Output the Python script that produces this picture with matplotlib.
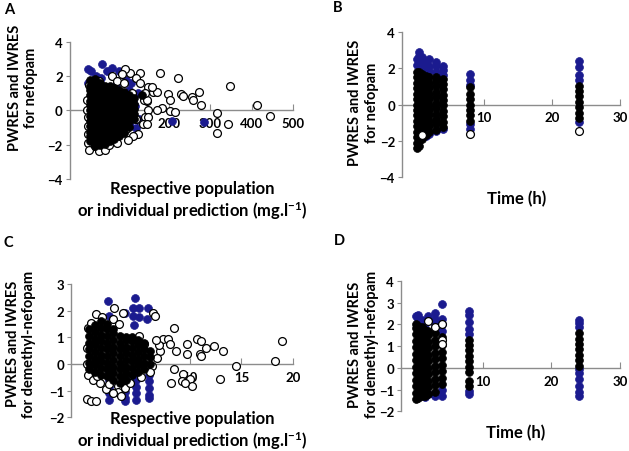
import matplotlib
matplotlib.use("Agg")
import matplotlib.pyplot as plt

plt.rcParams['font.family'] = ['Lato', 'DejaVu Sans']
plt.rcParams['font.weight'] = 'bold'
plt.rcParams['mathtext.fontset'] = 'custom'
plt.rcParams['mathtext.bf'] = 'Lato:bold'
plt.rcParams['mathtext.default'] = 'bf'

BLUE = '#1b1b8f'
GREY = '#8c8c8c'

## Panel A - residuals vs prediction, nefopam
a_blue_x = [5, 12, 37, 49, 61, 80, 36, 24, 4, 72, 97, 109, 104, 125, 113, 117, 109, 128,
            113, 105, 120, 100, 65, 80, 207, 284]
a_blue_y = [2.4, 2.3, 2.7, 2.3, 2.5, 2.3, 1.9, 2.0, 1.6, 1.5, 1.8, 1.6, 1.2, 1.0, 0.6, 0.25,
            -0.15, -0.5, -0.4, -0.9, -1.0, -0.9, -1.1, -1.3, -0.6, -0.7]
a_core_x = [8, 20, 32, 44, 56, 68, 80, 92, 104, 116, 135]
a_core_y = [
    [-1.8, -1.5, -1.25, -0.9, -0.6, -0.35, 0.0, 0.3, 0.55, 0.9, 1.2, 1.45, 1.75],
    [-2.05, -1.75, -1.4, -1.1, -0.8, -0.5, -0.2, 0.1, 0.45, 0.7, 1.0, 1.3, 1.6, 1.85],
    [-2.0, -1.7, -1.45, -1.1, -0.8, -0.5, -0.25, 0.1, 0.4, 0.7, 1.0, 1.3, 1.6],
    [-1.95, -1.6, -1.3, -1.0, -0.7, -0.4, -0.1, 0.2, 0.5, 0.8, 1.1, 1.4],
    [-1.8, -1.5, -1.2, -0.95, -0.6, -0.3, 0.0, 0.3, 0.6, 0.9, 1.15, 1.4],
    [-1.65, -1.4, -1.1, -0.8, -0.5, -0.2, 0.1, 0.4, 0.7, 1.0, 1.3],
    [-1.5, -1.2, -0.9, -0.6, -0.3, 0.0, 0.3, 0.6, 0.9, 1.2],
    [-1.3, -1.0, -0.7, -0.4, -0.1, 0.2, 0.5, 0.8, 1.1],
    [-0.95, -0.6, -0.3, 0.0, 0.3, 0.6, 0.9],
    [-0.5, -0.2, 0.1, 0.4, 0.7],
    [0.9],
]
a_open_x = [105, 130, 178, 222, 228, 233, 255, 259, 273, 277, 315, 315, 342, 347, 412, 444,
            198, 202, 214, 182, 170, 150, 146, 160, 150, 140, 142, 138, 125, 120, 110, 130,
            94, 121, 202, 146, 150, 146, 170, 158, 142,
            3, 6, 22, 30, 46, 54, 38, 74, 78, 62, 112, 96, 3, 3,
            2, 2, 3, 6, 62, 74, 90, 30, 85, 100]
a_open_y = [2.2, 2.2, 2.2, 1.9, 0.95, 0.85, 0.8, 0.6, 1.1, 0.3, -0.15, -1.3, -0.8, 1.45, 0.3, -0.3,
            0.95, -0.05, -0.1, 0.15, 0.05, 0.05, 0.55, 1.1, 1.35, 0.6, -0.4, -0.8, -1.4, 1.9, 1.0, 1.6,
            2.4, -0.5, 0.6, 0.6, -0.4, -0.8, 1.1, 1.35, 1.0,
            -1.9, -2.3, -2.1, -2.35, -2.3, -2.0, -1.8, -1.9, -1.4, -1.3, -1.5, -1.1, -1.4, -0.9,
            0.6, 0.0, -0.4, 1.5, 2.0, 1.7, 1.6, 1.7, 2.1, -1.7]

## Panel B - residuals vs time, nefopam
b_core_t = [0.25, 0.5, 1, 1.5, 2, 3, 4, 8, 24]
b_core_y = [
    [-2.4, -2.1, -1.8, -1.5, -1.2, -0.9, -0.6, -0.3, 0.0, 0.3, 0.6, 0.9, 1.2, 1.5, 1.8],
    [-2.3, -2.0, -1.7, -1.4, -1.1, -0.8, -0.5, -0.2, 0.1, 0.4, 0.7, 1.0, 1.3, 1.6, 1.8],
    [-1.9, -1.6, -1.3, -1.0, -0.7, -0.4, -0.1, 0.2, 0.5, 0.8, 1.1, 1.4, 1.7],
    [-1.7, -1.4, -1.1, -0.8, -0.5, -0.2, 0.1, 0.4, 0.7, 1.0, 1.3, 1.6],
    [-1.5, -1.2, -0.9, -0.6, -0.3, 0.0, 0.3, 0.6, 0.9, 1.2, 1.5],
    [-1.4, -1.1, -0.8, -0.5, -0.2, 0.1, 0.4, 0.7, 1.0, 1.3, 1.5],
    [-1.25, -0.95, -0.65, -0.35, -0.05, 0.25, 0.55, 0.85, 1.15, 1.4],
    [-0.9, -0.6, -0.3, 0.0, 0.3, 0.6, 0.95],
    [-0.75, -0.45, -0.15, 0.15, 0.45, 0.75, 1.0],
]
b_blue_t = [0.25, 0.25, 0.5, 0.5, 0.5, 1, 1, 1.5, 1.5, 2, 2, 2, 3, 3, 3, 4, 4, 4,
            1.5, 2, 3, 4, 3, 8, 8, 8, 8, 8, 24, 24, 24, 24, 24]
b_blue_y = [2.5, 2.2, 2.9, 2.7, 2.35, 2.6, 2.2, 2.3, 1.95, 2.5, 2.15, 1.85, 2.35, 2.1, 1.8,
            2.15, 1.9, 1.65, -1.75, -1.6, -1.45, -1.35, -0.9, 1.7, 1.35, 1.1, -1.1, -1.35,
            2.4, 2.05, 1.65, 1.35, -0.95]
b_open_t = [1, 8, 24]
b_open_y = [-1.7, -1.6, -1.45]

## Panel C - residuals vs prediction, demethyl-nefopam
c_core_x = [0.2, 0.8, 1.4, 2.0, 2.6, 3.2, 3.8, 4.4, 5.0, 5.6, 6.1]
c_core_y = [
    [-0.2, 0.05, 0.3, 0.55, 0.8, 1.05, 1.3],
    [-0.3, -0.05, 0.2, 0.45, 0.7, 0.95, 1.2, 1.45],
    [-0.4, -0.15, 0.1, 0.35, 0.6, 0.85, 1.1, 1.35, 1.6],
    [-0.45, -0.2, 0.05, 0.3, 0.55, 0.8, 1.05, 1.3, 1.5],
    [-0.6, -0.35, -0.1, 0.15, 0.4, 0.65, 0.9, 1.15, 1.3],
    [-0.7, -0.45, -0.2, 0.05, 0.3, 0.55, 0.8, 1.05],
    [-0.6, -0.35, -0.1, 0.15, 0.4, 0.65, 0.9, 1.0],
    [-0.4, -0.15, 0.1, 0.35, 0.6, 0.85, 1.0],
    [-0.3, -0.05, 0.2, 0.45, 0.7, 0.9],
    [-0.2, 0.05, 0.3, 0.55, 0.8],
    [0.0, 0.25, 0.5],
]
c_blue_x = [2.1, 2.2, 3.7, 4.7, 4.5, 5.1, 5.95, 4.5, 5.1, 5.9, 4.6,
            2.2, 2.2, 2.2, 2.2, 2.2, 3.7, 3.7, 3.7, 3.7, 3.7,
            4.8, 4.8, 4.8, 4.8, 4.8, 6.0, 6.0, 6.0, 6.0, 6.0]
c_blue_y = [2.35, 1.8, 1.9, 2.5, 2.1, 2.1, 2.1, 1.8, 1.75, 1.7, 1.45,
            -0.35, -0.6, -0.85, -1.1, -1.35, -0.55, -0.8, -1.05, -1.3, -1.4,
            -0.35, -0.6, -0.85, -1.1, -1.35, -0.4, -0.65, -0.9, -1.15, -1.3]
c_open_x = [6.4, 8.5, 7.4, 7.9, 8.1, 8.7, 9.7, 9.7, 10.65, 11.1, 10.95, 11.1, 11.6, 12.3,
            13.2, 12.9, 14.5, 18.2, 18.9, 8.5, 9.35, 9.2, 8.2, 10.0, 10.2, 9.5, 6.6, 7.1,
            6.8, 6.3, 6.1, 7.0, 6.7,
            0.9, 0.1, 0.0, 0.05, 0.1, 0.6, 1.3, 1.9, 3.0, 3.0, 3.7, 2.6, 3.3, 0.05, 0.45,
            0.95, 2.7, 3.5, 2.55, 3.1, 5.1, 5.6, 1.5, 0.4, 4.2, 5.3, 2.2, 1.0]
c_open_y = [1.93, 1.37, 0.93, 0.93, 0.74, 0.49, 0.74, 0.36, 0.93, 0.87, 0.36, 0.3, 0.61, 0.68,
            0.49, -0.57, -0.07, 0.12, 0.87, -0.2, -0.38, -0.63, -0.7, -0.57, -0.82, -0.7, 1.8, 0.49,
            0.24, -0.07, -0.32, 0.7, 0.9,
            1.87, 1.37, 0.61, 0.0, -0.4, -0.6, -0.7, -0.95, -0.82, -1.07, -0.9, -1.1, -1.2, -1.32, -1.39,
            -1.39, 2.12, 1.9, 1.68, 1.5, 1.06, 0.74, 1.75, 1.55, -0.7, -0.5, -0.75, -0.45]

## Panel D - residuals vs time, demethyl-nefopam
d_core_t = [0.25, 0.5, 1, 1.5, 2, 3, 4, 8, 24]
d_core_y = [
    [-1.45, -1.15, -0.85, -0.55, -0.25, 0.05, 0.35, 0.65, 0.95, 1.25, 1.55, 1.85, 2.0],
    [-1.4, -1.1, -0.8, -0.5, -0.2, 0.1, 0.4, 0.7, 1.0, 1.3, 1.6, 1.95],
    [-1.3, -1.0, -0.7, -0.4, -0.1, 0.2, 0.5, 0.8, 1.1, 1.4, 1.7, 1.9],
    [-1.3, -1.0, -0.7, -0.4, -0.1, 0.2, 0.5, 0.8, 1.1, 1.4, 1.75],
    [-1.2, -0.9, -0.6, -0.3, 0.0, 0.3, 0.6, 0.9, 1.2, 1.5, 1.7],
    [-1.1, -0.8, -0.5, -0.2, 0.1, 0.4, 0.7, 1.0, 1.3, 1.6],
    [-0.75, -0.45, -0.15, 0.15, 0.45, 0.75, 1.05, 1.4],
    [-0.85, -0.6, -0.2, 0.05, 0.3, 0.55, 0.8, 1.05, 1.3],
    [0.1, 0.35, 0.6, 0.85, 1.1, 1.35, 1.6],
]
d_blue_t = [0.25, 0.5, 0.5, 1, 1.5, 2, 3, 3, 3, 4, 4, 4, 4, 2, 1.5, 3, 4, 4,
            8, 8, 8, 8, 8, 8, 8, 24, 24, 24, 24, 24, 24, 24, 24, 24]
d_blue_y = [2.4, 2.45, 2.25, 2.2, 2.0, 2.4, 2.55, 2.25, 2.0, 2.95, 2.25, 2.0, 1.7, -1.2, -1.35,
            -1.3, -1.3, -1.0, 2.6, 2.45, 2.1, 1.8, 1.55, -1.05, -1.2,
            2.2, 2.05, 1.9, -0.05, -0.25, -0.5, -0.85, -1.1, -1.28]
d_open_t = [2, 3, 4, 4, 4]
d_open_y = [2.15, 1.9, 2.0, 1.3, 1.1]


def expand(cols, ys):
    xs, yy = [], []
    for c, col in zip(cols, ys):
        xs += [c] * len(col)
        yy += col
    return xs, yy


def draw(ax, blue, core, opn, open_z):
    ax.scatter(blue[0], blue[1], s=32, c=BLUE, edgecolors=BLUE, linewidths=0.5, zorder=3)
    cx, cy = expand(core[0], core[1])
    ax.scatter(cx, cy, s=32, c='black', edgecolors='black', linewidths=0.5, zorder=4)
    ax.scatter(opn[0], opn[1], s=32, facecolors='white', edgecolors='black', linewidths=0.9,
               zorder=open_z)


def style(ax, xlim, ylim, xticks, yticks):
    ax.set_xlim(xlim)
    ax.set_ylim(ylim)
    ax.patch.set_alpha(0)
    ax.spines['top'].set_visible(False)
    ax.spines['right'].set_visible(False)
    ax.spines['bottom'].set_position(('data', 0))
    for s in ('left', 'bottom'):
        ax.spines[s].set_color(GREY)
        ax.spines[s].set_linewidth(1)
    ax.set_xticks(xticks)
    ax.set_yticks(yticks)
    ax.tick_params(axis='x', direction='in', length=4, color=GREY, pad=5, labelsize=9.5)
    ax.tick_params(axis='y', direction='out', length=3, color=GREY, pad=2, labelsize=9.5)


fig = plt.figure(figsize=(6.29, 4.52), dpi=100)
axA = fig.add_axes([0.111, 0.602, 0.355, 0.303])
axB = fig.add_axes([0.639, 0.606, 0.347, 0.321])
axC = fig.add_axes([0.113, 0.075, 0.353, 0.294])
axD = fig.add_axes([0.6375, 0.088, 0.348, 0.288])

draw(axA, (a_blue_x, a_blue_y), (a_core_x, a_core_y), (a_open_x, a_open_y), 3.5)
style(axA, (-40, 500), (-4, 4), [100, 200, 300, 400, 500], [-4, -2, 0, 2, 4])

draw(axB, (b_blue_t, b_blue_y), (b_core_t, b_core_y), (b_open_t, b_open_y), 5)
style(axB, (-2, 30), (-4, 4), [10, 20, 30], [-4, -2, 0, 2, 4])

draw(axC, (c_blue_x, c_blue_y), (c_core_x, c_core_y), (c_open_x, c_open_y), 3.5)
style(axC, (-1.5, 20), (-2, 3), [5, 10, 15, 20], [-2, -1, 0, 1, 2, 3])

draw(axD, (d_blue_t, d_blue_y), (d_core_t, d_core_y), (d_open_t, d_open_y), 5)
style(axD, (-2, 30), (-2, 4), [10, 20, 30], [-2, -1, 0, 1, 2, 3, 4])

ylab = dict(fontsize=10.5, fontweight='bold', ha='center', va='center', multialignment='center',
            rotation=90)
fig.text(0.0366, 0.805, 'PWRES and IWRES\nfor nefopam', **ylab)
fig.text(0.578, 0.772, 'PWRES and IWRES\nfor nefopam', **ylab)
fig.text(0.0334, 0.239, 'PWRES and IWRES\nfor demethyl-nefopam', **ylab)
fig.text(0.578, 0.237, 'PWRES and IWRES\nfor demethyl-nefopam', **ylab)

xlab = dict(fontsize=12, fontweight='bold', ha='center', va='center', multialignment='center')
xl = 'Respective population\nor individual prediction (mg.l$^{-1}$)'
fig.text(0.305, 0.555, xl, **xlab)
fig.text(0.822, 0.560, 'Time (h)', **xlab)
fig.text(0.305, 0.046, xl, **xlab)
fig.text(0.820, 0.042, 'Time (h)', **xlab)

for x, y, t in [(0.0143, 0.978, 'A'), (0.537, 0.982, 'B'), (0.0135, 0.462, 'C'), (0.539, 0.467, 'D')]:
    fig.text(x, y, t, fontsize=10.5, fontweight='bold', ha='center', va='center')

fig.savefig('out.png', dpi=100)
